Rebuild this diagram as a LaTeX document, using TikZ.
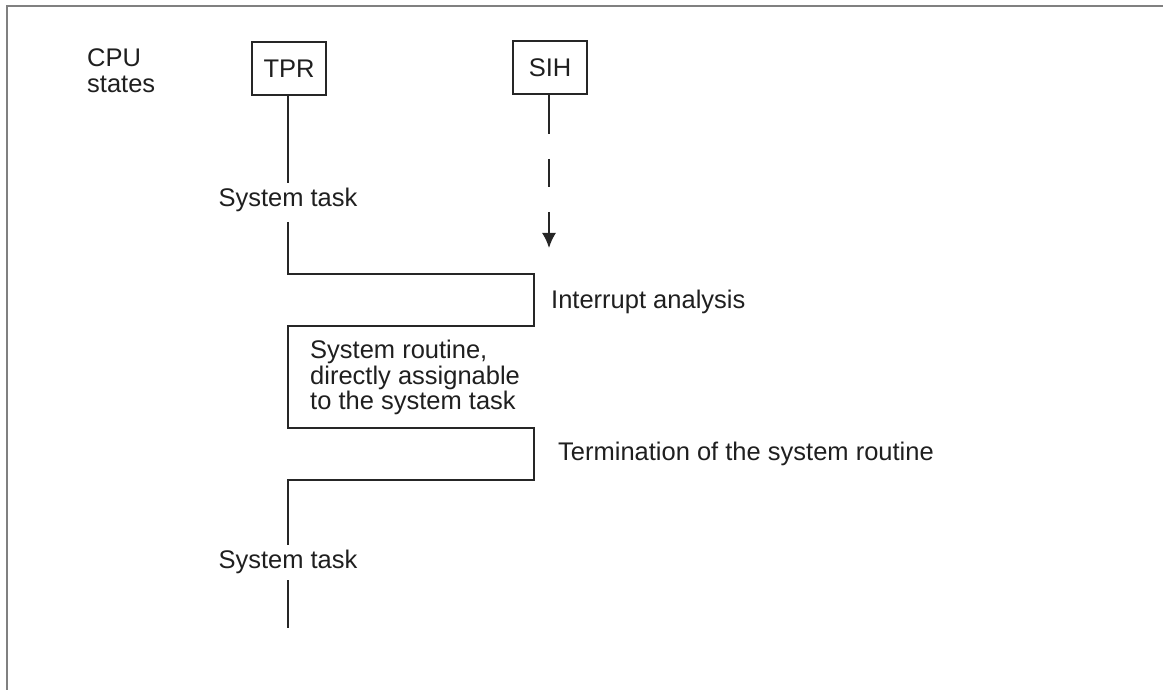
\documentclass[tikz,border=0pt]{standalone}
\usepackage{fontspec}
\setmainfont{Liberation Sans}
\usetikzlibrary{arrows.meta}
\begin{document}
\begin{tikzpicture}[x=1pt,y=-1pt,
  txt/.style={inner sep=0pt, font=\fontsize{25.5}{25.5}\selectfont, text=black!88},
  statebox/.style={draw=black!85, line width=1.8pt, minimum width=74pt, minimum height=53pt, inner sep=0pt, font=\fontsize{25.5}{25.5}\selectfont, text=black!88},
  tl/.style={draw=black!85, line width=1.8pt},
  frame/.style={draw=black!50, line width=1.5pt}]
  \useasboundingbox (0,0) rectangle (1163,690);

  % outer frame (top and left edges)
  \coordinate (fl) at (7,690);
  \coordinate (fc) at (7,6);
  \coordinate (fr) at (1163,6);
  \draw[frame] (fl) -- (fc) -- (fr);

  % headings
  \node[txt, anchor=north west, align=left] (cpu) at (87,48.5) {CPU\\states};
  \node[statebox] (tpr) at (289,68.5) {TPR};
  \node[statebox] (sih) at (550,67.5) {SIH};

  % labels along the time line
  \node[txt, anchor=base] (st1) at (288,207) {System task};
  \node[txt, anchor=base west] (ia) at (551,308) {Interrupt analysis};
  \node[txt, anchor=north west, align=left] (sr) at (310,340) {System routine,\\directly assignable\\to the system task};
  \node[txt, anchor=base west] (term) at (558,460) {Termination of the system routine};
  \node[txt, anchor=base] (st2) at (288,568) {System task};

  % time line corner points
  \coordinate (a0) at (288,183);
  \coordinate (a1) at (288,222);
  \coordinate (a2) at (288,274);
  \coordinate (a3) at (534,274);
  \coordinate (a4) at (534,326);
  \coordinate (a5) at (288,326);
  \coordinate (a6) at (288,428);
  \coordinate (a7) at (534,428);
  \coordinate (a8) at (534,480);
  \coordinate (a9) at (288,480);
  \coordinate (a10) at (288,545);
  \coordinate (a11) at (288,580);
  \coordinate (a12) at (288,628);

  \draw[tl] (tpr.south -| a0) -- (a0);
  \draw[tl] (a1) -- (a2) -- (a3) -- (a4) -- (a5) -- (a6) -- (a7) -- (a8) -- (a9) -- (a10);
  \draw[tl] (a11) -- (a12);

  % interrupt request from SIH
  \coordinate (irq) at (549,248);
  \draw[tl, dash pattern=on 39pt off 25pt on 28pt off 25pt on 60pt,
        -{Latex[length=15pt,width=14pt]}] (sih.south -| irq) -- (irq);
\end{tikzpicture}
\end{document}
